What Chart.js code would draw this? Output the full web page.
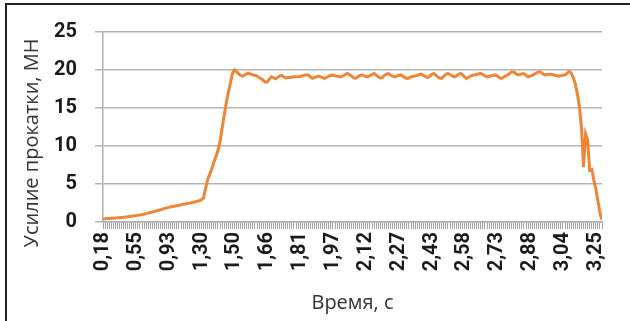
<!DOCTYPE html>
<html lang="ru">
<head>
  <meta charset="UTF-8">
  <title>Усилие прокатки</title>
  <script src="https://cdn.jsdelivr.net/npm/chart.js"></script>
  <style>
    body { margin: 0; background: #fff; }
    .frame { position: absolute; left: 5px; top: 3px; width: 640px; height: 340px; border: 2px solid #222; }
    .wrap { position: absolute; left: 0; top: 0; width: 630px; height: 321px; }
  </style>
</head>
<body>
  <div class="frame"></div>
  <div class="wrap"><canvas id="grafico"></canvas></div>

  <script>
    // подписи по оси времени (каждая 16-я точка)
    const timeLabels = ['0,18', '0,55', '0,93', '1,30', '1,50', '1,66', '1,81', '1,97',
                        '2,12', '2,27', '2,43', '2,58', '2,73', '2,88', '3,04', '3,25'];
    const labelStep = 16;

    // усилие, МН — захват металла и разгон
    const forceRise = [
      0.4, 0.42, 0.45, 0.47, 0.48, 0.5, 0.52, 0.55, 0.57, 0.6,
      0.62, 0.65, 0.68, 0.72, 0.76, 0.8, 0.84, 0.88, 0.92, 0.97,
      1.03, 1.1, 1.17, 1.24, 1.31, 1.38, 1.46, 1.54, 1.62, 1.7,
      1.78, 1.86, 1.93, 2.0, 2.05, 2.1, 2.15, 2.2, 2.26, 2.32,
      2.38, 2.43, 2.48, 2.54, 2.6, 2.67, 2.74, 2.82, 2.95, 3.15,
      4.5, 5.6, 6.3, 7.0, 7.9, 8.6, 9.4, 10.6, 12.3, 14.0,
      15.6, 17.0, 18.2, 19.5
    ];
    // установившийся процесс
    const forcePlateau = [
      20.0, 19.8, 19.5, 19.3, 19.2, 19.35, 19.5, 19.55, 19.45, 19.35,
      19.3, 19.2, 19.0, 18.85, 18.65, 18.4, 18.45, 18.8, 19.1, 19.0,
      18.85, 19.0, 19.2, 19.3, 19.1, 18.95, 19.0, 19.0, 19.05, 19.1,
      19.1, 19.1, 19.15, 19.2, 19.3, 19.35, 19.35, 19.1, 18.9, 19.0,
      19.1, 19.2, 19.1, 19.0, 18.9, 19.05, 19.2, 19.3, 19.35, 19.25,
      19.2, 19.1, 19.1, 19.25, 19.4, 19.55, 19.4, 19.2, 19.0, 18.9,
      19.1, 19.25, 19.35, 19.25, 19.15, 19.1, 19.25, 19.4, 19.55, 19.35,
      19.1, 18.95, 19.0, 19.3, 19.45, 19.55, 19.35, 19.2, 19.1, 19.2,
      19.3, 19.35, 19.2, 19.0, 18.9, 18.95, 19.1, 19.15, 19.2, 19.3,
      19.4, 19.45, 19.3, 19.15, 19.0, 19.15, 19.4, 19.55, 19.35, 19.1,
      18.95, 18.9, 19.2, 19.45, 19.55, 19.4, 19.25, 19.1, 19.2, 19.4,
      19.55, 19.4, 19.1, 18.9, 19.05, 19.2, 19.3, 19.35, 19.4, 19.5,
      19.55, 19.4, 19.25, 19.1, 19.15, 19.25, 19.3, 19.35, 19.2, 19.0,
      18.9, 19.05, 19.2, 19.35, 19.55, 19.75, 19.75, 19.55, 19.35, 19.4,
      19.5, 19.5, 19.3, 19.1, 19.2, 19.3, 19.45, 19.6, 19.75, 19.75,
      19.55, 19.35, 19.4, 19.45, 19.45, 19.4, 19.3, 19.25, 19.2, 19.25,
      19.3, 19.35, 19.55, 19.8
    ];
    // выход металла из валков
    const forceDrop = [19.6, 19.0, 18.2, 16.8, 15.2, 12.5, 7.2, 11.6, 10.8, 6.8, 6.9, 5.6, 4.3, 2.8, 1.2, 0.3];

    const force = forceRise.concat(forcePlateau, forceDrop);
    const points = force.map((v, i) => ({ x: i, y: v }));

    const tickFont = { family: "'Roboto'", size: 20, weight: 'bold' };

    // подпись оси Y (в оригинале смещена вниз относительно области графика)
    const yTitle = {
      id: 'yTitle',
      afterDraw(chart) {
        const ctx = chart.ctx;
        ctx.save();
        ctx.translate(32, 143);
        ctx.rotate(-Math.PI / 2);
        ctx.font = "20px 'Open Sans'";
        ctx.fillStyle = '#333';
        ctx.textAlign = 'center';
        ctx.textBaseline = 'middle';
        ctx.fillText('Усилие прокатки, МН', 0, 0);
        ctx.restore();
      }
    };

    new Chart(document.getElementById('grafico'), {
      type: 'line',
      data: {
        datasets: [{
          data: points,
          borderColor: '#EF8536',
          borderWidth: 3,
          pointRadius: 0,
          fill: false,
          tension: 0
        }]
      },
      plugins: [yTitle],
      options: {
        responsive: true,
        maintainAspectRatio: false,
        animation: false,
        layout: { padding: { top: 32, right: 28, bottom: 0, left: 0 } },
        plugins: {
          legend: { display: false },
          tooltip: { enabled: false }
        },
        scales: {
          x: {
            type: 'linear',
            min: 0,
            max: force.length - 1,
            afterFit: s => { s.height = 99; },
            ticks: {
              stepSize: 1,
              maxTicksLimit: 1000,
              autoSkip: false,
              minRotation: 90,
              maxRotation: 90,
              padding: 3,
              color: '#1a1a1a',
              font: tickFont,
              callback: v => v % labelStep === 0 ? (timeLabels[v / labelStep] || '') : ''
            },
            grid: { drawOnChartArea: false, tickLength: 7, color: '#a3a3a3', tickColor: '#a3a3a3', lineWidth: 1 },
            border: { color: '#aeaeae', width: 1.5 },
            title: {
              display: true,
              text: 'Время, с',
              color: '#333',
              font: { family: "'Open Sans'", size: 20 },
              padding: { top: 0, bottom: 6 }
            }
          },
          y: {
            min: 0,
            max: 25,
            afterFit: s => { s.width = 103; },
            ticks: { stepSize: 5, padding: 18, color: '#1a1a1a', font: tickFont },
            grid: { color: '#b3b3b3', lineWidth: 1.5, tickLength: 8 },
            border: { color: '#aeaeae', width: 1.5 }
          }
        }
      }
    });
  </script>
</body>
</html>
